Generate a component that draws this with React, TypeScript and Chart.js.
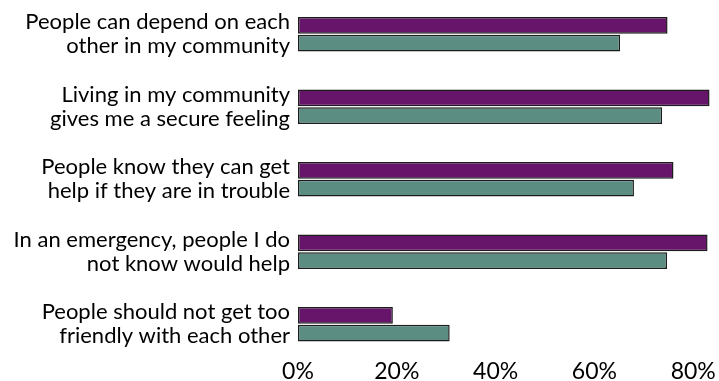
import React, { useEffect, useRef } from "react";
import { Chart, registerables } from "chart.js";

Chart.register(...registerables);

const categories: string[][] = [
  ["People can depend on each", "other in my community"],
  ["Living in my community", "gives me a secure feeling"],
  ["People know they can get", "help if they are in trouble"],
  ["In an emergency, people I do", "not know would help"],
  ["People should not get too", "friendly with each other"],
];
const seriesA: number[] = [74.8, 83.3, 76.0, 82.9, 19.2];
const seriesB: number[] = [65.2, 73.7, 68.0, 74.7, 30.7];
const xTicks: number[] = [0, 20, 40, 60, 80];

const FONT = "Lato, 'Open Sans', sans-serif";

export default function App() {
  const ref = useRef<HTMLCanvasElement | null>(null);
  useEffect(() => {
    if (!ref.current) return;
    const chart = new Chart(ref.current, {
      type: "bar",
      data: {
        labels: categories,
        datasets: [
          {
            data: seriesA,
            backgroundColor: "#66156b",
            borderColor: "#1c1c1c",
            borderWidth: 1.5,
            borderSkipped: false,
            categoryPercentage: 0.49,
            barPercentage: 0.95,
          },
          {
            data: seriesB,
            backgroundColor: "#5b8d83",
            borderColor: "#1c1c1c",
            borderWidth: 1.5,
            borderSkipped: false,
            categoryPercentage: 0.49,
            barPercentage: 0.95,
          },
        ],
      },
      options: {
        indexAxis: "y",
        animation: false,
        responsive: false,
        maintainAspectRatio: false,
        layout: { padding: { top: 2, right: 6, left: 0, bottom: 0 } },
        plugins: { legend: { display: false }, tooltip: { enabled: false } },
        scales: {
          x: {
            min: 0,
            max: 84,
            grid: { display: false, drawTicks: false },
            border: { display: false },
            ticks: {
              stepSize: 20,
              padding: 0,
              color: "#000",
              font: { family: FONT, size: 23, lineHeight: 1 },
              callback: (v: any) => v + "%",
            },
            afterBuildTicks: (axis: any) => {
              axis.ticks = xTicks.map((v) => ({ value: v }));
            },
            afterFit: (axis: any) => {
              axis.height = 20.5;
              axis.paddingLeft = 0;
              axis.paddingRight = 0;
              axis.paddingTop = 0;
              axis.paddingBottom = 0;
            },
          },
          y: {
            grid: { display: false, drawTicks: false },
            border: { display: false },
            ticks: {
              padding: 8,
              color: "#000",
              font: { family: FONT, size: 22, lineHeight: 1.1 },
            },
            afterFit: (axis: any) => {
              axis.width = 298;
              axis.paddingLeft = 0;
              axis.paddingRight = 0;
              axis.paddingTop = 0;
              axis.paddingBottom = 0;
            },
          },
        },
      },
    });
    return () => chart.destroy();
  }, []);
  return (
    <div style={{ position: "absolute", left: 0, top: -4, width: 719, height: 385 }}>
      <canvas ref={ref} width={719} height={385} style={{ width: 719, height: 385 }} />
    </div>
  );
}
